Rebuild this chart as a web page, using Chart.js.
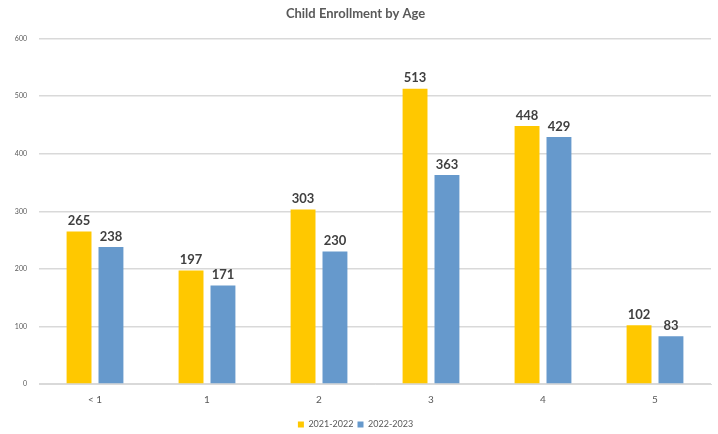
<!DOCTYPE html>
<html><head><meta charset="utf-8">
<script src="https://cdn.jsdelivr.net/npm/chart.js@4/dist/chart.umd.min.js"></script>
<style>html,body{margin:0;padding:0;background:#fff}#wrap{width:718px;height:434px}</style>
</head><body><div id="wrap"><canvas id="c"></canvas></div>
<script>
const categories = ["< 1", "1", "2", "3", "4", "5"];
const series2021 = [265, 197, 303, 513, 448, 102];
const series2022 = [238, 171, 230, 363, 429, 83];
const seriesNames = ["2021-2022", "2022-2023"];
const yTicks = [0, 100, 200, 300, 400, 500, 600];

const FONT = "Lato, 'Open Sans', sans-serif";
const labelPlugin = {
  id: 'valueLabels',
  afterDatasetsDraw(chart) {
    const ctx = chart.ctx;
    ctx.save();
    ctx.font = "bold 13px " + FONT;
    ctx.fillStyle = "#404040";
    ctx.textAlign = "center";
    ctx.textBaseline = "bottom";
    chart.data.datasets.forEach((ds, i) => {
      const meta = chart.getDatasetMeta(i);
      meta.data.forEach((bar, j) => {
        ctx.fillText(String(ds.data[j]), bar.x, bar.y - 4);
      });
    });
    ctx.restore();
  }
};

new Chart(document.getElementById('c'), {
  type: 'bar',
  data: {
    labels: categories,
    datasets: [
      { label: seriesNames[0], data: series2021, backgroundColor: '#FFC800', categoryPercentage: 0.57, barPercentage: 0.78 },
      { label: seriesNames[1], data: series2022, backgroundColor: '#6699CC', categoryPercentage: 0.57, barPercentage: 0.78 }
    ]
  },
  options: {
    responsive: true,
    maintainAspectRatio: false,
    animation: false,
    layout: { padding: { left: 0, right: 7, top: 4, bottom: -5 } },
    plugins: {
      title: { display: true, text: 'Child Enrollment by Age', color: '#595959', font: { family: FONT, size: 13, weight: 'bold' }, padding: { top: 2, bottom: 17 } },
      legend: { position: 'bottom', labels: { boxWidth: 6, boxHeight: 6, color: '#595959', font: { family: FONT, size: 9 }, padding: 4 } },
      tooltip: { enabled: false }
    },
    scales: {
      x: {
        grid: { display: false, drawTicks: false },
        border: { display: true, color: '#d9d9d9' },
        ticks: { color: '#595959', font: { family: FONT, size: 10 }, padding: 10 }
      },
      y: {
        min: 0, max: 600,
        afterBuildTicks(s) { s.ticks = yTicks.map(v => ({ value: v })); },
        afterFit(s) { s.width = 39; },
        grid: { color: '#d9d9d9', lineWidth: 1.5, drawTicks: false },
        border: { display: false },
        ticks: { color: '#595959', font: { family: FONT, size: 7 }, padding: 12 }
      }
    }
  },
  plugins: [labelPlugin]
});
</script></body></html>
